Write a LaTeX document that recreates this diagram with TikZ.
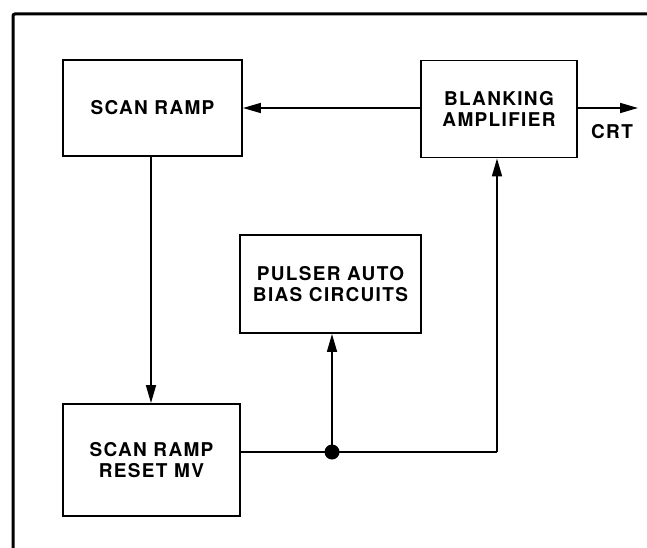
\documentclass[tikz,border=0pt]{standalone}
\usepackage{fontspec}
\setmainfont{TeX Gyre Heros}[LetterSpace=7]
\usetikzlibrary{arrows.meta}
\tikzset{
  blk/.style={draw, line width=1.9pt, inner sep=0pt, align=center,
    font=\fontsize{19}{21.5}\selectfont\bfseries},
  conn/.style={line width=1.7pt},
  arr/.style={conn, -{Triangle[length=18pt,width=10pt]}},
  lbl/.style={font=\fontsize{19}{21}\selectfont\bfseries, inner sep=0pt}
}
\begin{document}
\begin{tikzpicture}[x=1pt,y=-1pt]
\useasboundingbox (0,0) rectangle (647,548);
\fill[white] (0,0) rectangle (647,548);
\draw[line width=3pt, rounded corners=2pt] (13,548) -- (13,14) -- (647,14);

\node[blk, minimum width=179pt, minimum height=96pt] (scan) at (152.5,108) {SCAN RAMP};
\node[blk, minimum width=156pt, minimum height=97pt] (blank) at (499,109) {BLANKING\\AMPLIFIER};
\node[blk, minimum width=181pt, minimum height=98pt] (pulser) at (330.5,284) {PULSER AUTO\\BIAS CIRCUITS};
\node[blk, minimum width=177pt, minimum height=112pt] (reset) at (151.5,460) {SCAN RAMP\\RESET MV};

\coordinate (rout) at (reset.east |- 0,452);
\coordinate (dot) at (332,452);
\coordinate (corner) at (497,452);
\coordinate (crtend) at (638,108);
\node[lbl] (crt) at (612,132) {CRT};

\draw[arr] (blank.west |- 0,108) -- (scan.east |- 0,108);
\draw[arr] (blank.east |- 0,108) -- (crtend);
\draw[arr] (scan.south -| 151,0) -- (reset.north -| 151,0);
\draw[conn] (rout) -- (corner);
\draw[arr] (corner) -- (blank.south -| corner);
\draw[arr] (dot) -- (pulser.south -| dot);
\fill (dot) circle (7.5pt);
\end{tikzpicture}
\end{document}
